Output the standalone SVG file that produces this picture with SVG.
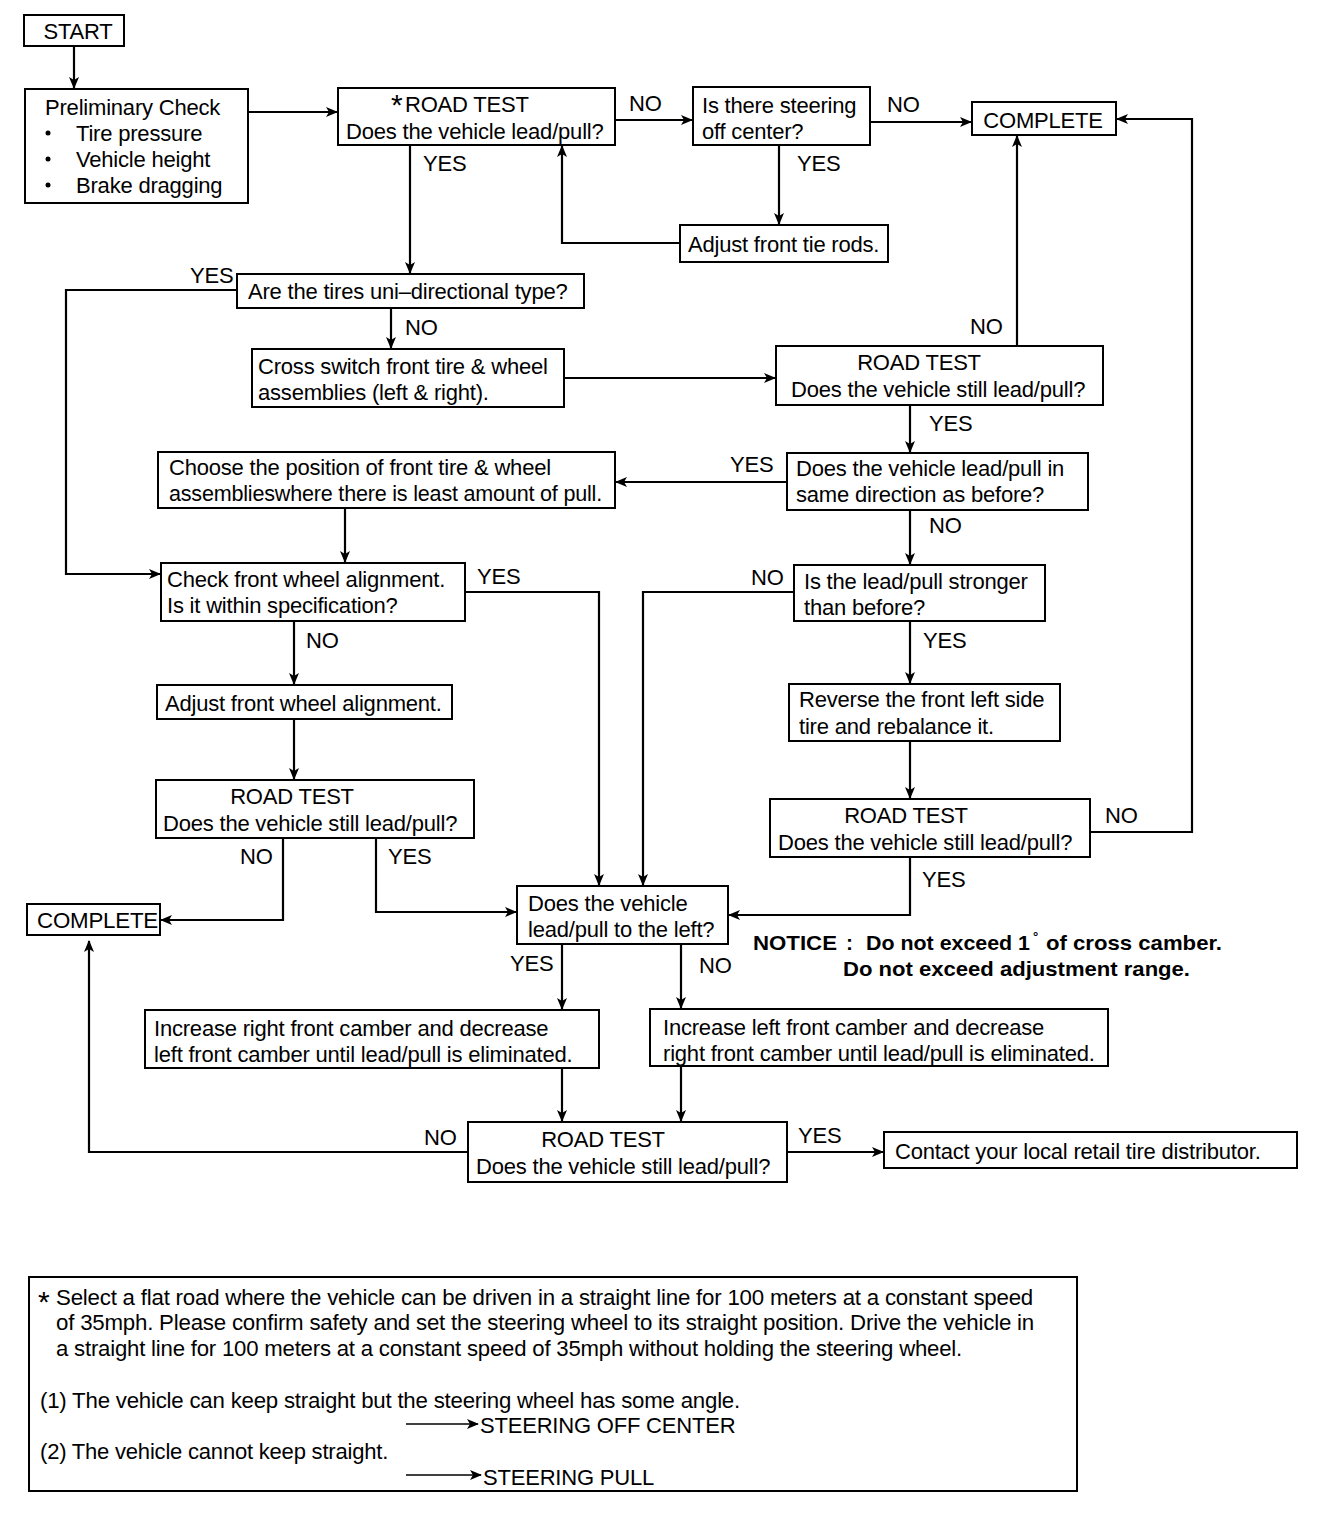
<svg xmlns="http://www.w3.org/2000/svg" width="1344" height="1518" viewBox="0 0 1344 1518">
<defs>
<marker id="ah" viewBox="0 0 12 10" refX="11" refY="5" markerWidth="13" markerHeight="10" markerUnits="userSpaceOnUse" orient="auto">
<path d="M0,0 L12,5 L0,10 L3,5 Z" fill="#000"/>
</marker>
</defs>
<style>
text{font-family:"Liberation Sans",Arial,sans-serif;font-size:22px;fill:#000;letter-spacing:-0.2px}
.b{fill:#fff;stroke:#000;stroke-width:2}
.c path{fill:none;stroke:#000;stroke-width:2.2}
.bold{font-weight:bold;font-size:21px;letter-spacing:0}
.m{text-anchor:middle}
.st{font-size:30px}
</style>
<rect width="1344" height="1518" fill="#fff"/>

<g class="c" id="connectors">
<path d="M74,46 V88" marker-end="url(#ah)"/>
<path d="M248,112 H337" marker-end="url(#ah)"/>
<path d="M615,120 H692" marker-end="url(#ah)"/>
<path d="M870,122 H971" marker-end="url(#ah)"/>
<path d="M779,145 V224" marker-end="url(#ah)"/>
<path d="M680,243 H562 V146" marker-end="url(#ah)"/>
<path d="M410,145 V273" marker-end="url(#ah)"/>
<path d="M237,290 H66 V574 H160" marker-end="url(#ah)"/>
<path d="M391,308 V348" marker-end="url(#ah)"/>
<path d="M564,378 H775" marker-end="url(#ah)"/>
<path d="M1017,346 V136" marker-end="url(#ah)"/>
<path d="M910,405 V452" marker-end="url(#ah)"/>
<path d="M787,482 H616" marker-end="url(#ah)"/>
<path d="M910,510 V564" marker-end="url(#ah)"/>
<path d="M345,508 V562" marker-end="url(#ah)"/>
<path d="M465,592 H599 V885" marker-end="url(#ah)"/>
<path d="M294,621 V684" marker-end="url(#ah)"/>
<path d="M294,719 V779" marker-end="url(#ah)"/>
<path d="M283,838 V920 H161" marker-end="url(#ah)"/>
<path d="M376,838 V912 H516" marker-end="url(#ah)"/>
<path d="M794,592 H643 V885" marker-end="url(#ah)"/>
<path d="M910,621 V683" marker-end="url(#ah)"/>
<path d="M910,741 V798" marker-end="url(#ah)"/>
<path d="M1090,832 H1192 V119 H1117" marker-end="url(#ah)"/>
<path d="M910,857 V915 H729" marker-end="url(#ah)"/>
<path d="M562,944 V1009" marker-end="url(#ah)"/>
<path d="M681,944 V1008" marker-end="url(#ah)"/>
<path d="M562,1068 V1121" marker-end="url(#ah)"/>
<path d="M681,1066 V1121" marker-end="url(#ah)"/>
<path d="M468,1152 H89 V941" marker-end="url(#ah)"/>
<path d="M787,1152 H883" marker-end="url(#ah)"/>
</g>

<g id="labels">
<text x="629" y="111">NO</text>
<text x="887" y="112">NO</text>
<text x="797" y="171">YES</text>
<text x="423" y="171">YES</text>
<text x="190" y="283">YES</text>
<text x="405" y="335">NO</text>
<text x="970" y="334">NO</text>
<text x="929" y="431">YES</text>
<text x="730" y="472">YES</text>
<text x="929" y="533">NO</text>
<text x="477" y="584">YES</text>
<text x="306" y="648">NO</text>
<text x="751" y="585">NO</text>
<text x="923" y="648">YES</text>
<text x="240" y="864">NO</text>
<text x="388" y="864">YES</text>
<text x="1105" y="823">NO</text>
<text x="922" y="887">YES</text>
<text x="510" y="971">YES</text>
<text x="699" y="973">NO</text>
<text x="424" y="1145">NO</text>
<text x="798" y="1143">YES</text>
</g>

<g id="start"><rect class="b" x="24" y="15" width="100" height="31"/><text x="78" y="39" class="m">START</text></g>

<g id="prelim"><rect class="b" x="25" y="89" width="223" height="114"/>
<text x="45" y="115">Preliminary Check</text>
<circle cx="48" cy="133" r="2.5"/><text x="76" y="141">Tire pressure</text>
<circle cx="48" cy="159" r="2.5"/><text x="76" y="167">Vehicle height</text>
<circle cx="48" cy="185" r="2.5"/><text x="76" y="193">Brake dragging</text>
</g>

<g id="rt1"><rect class="b" x="338" y="88" width="277" height="57"/>
<text x="391" y="115" class="st">*</text>
<text x="405" y="112">ROAD TEST</text>
<text x="346" y="139">Does the vehicle lead/pull?</text>
</g>

<g id="offcenter"><rect class="b" x="693" y="87" width="177" height="58"/>
<text x="702" y="113">Is there steering</text>
<text x="702" y="139">off center?</text>
</g>

<g id="complete1"><rect class="b" x="972" y="102" width="144" height="33"/><text x="1043" y="128" class="m">COMPLETE</text></g>

<g id="tierods"><rect class="b" x="680" y="225" width="208" height="37"/><text x="688" y="252">Adjust front tie rods.</text></g>

<g id="unidir"><rect class="b" x="237" y="274" width="347" height="34"/><text x="248" y="299">Are the tires uni–directional type?</text></g>

<g id="cross"><rect class="b" x="252" y="349" width="312" height="58"/>
<text x="258" y="374">Cross switch front tire &amp; wheel</text>
<text x="258" y="400">assemblies (left &amp; right).</text>
</g>

<g id="rt2"><rect class="b" x="776" y="346" width="327" height="59"/>
<text x="919" y="370" class="m">ROAD TEST</text>
<text x="791" y="397">Does the vehicle still lead/pull?</text>
</g>

<g id="choose"><rect class="b" x="158" y="452" width="457" height="56"/>
<text x="169" y="475">Choose the position of front tire &amp; wheel</text>
<text x="169" y="501" textLength="433" lengthAdjust="spacingAndGlyphs">assemblieswhere there is least amount of pull.</text>
</g>

<g id="samedir"><rect class="b" x="787" y="453" width="301" height="57"/>
<text x="796" y="476">Does the vehicle lead/pull in</text>
<text x="796" y="502">same direction as before?</text>
</g>

<g id="checkalign"><rect class="b" x="161" y="563" width="304" height="58"/>
<text x="167" y="587">Check front wheel alignment.</text>
<text x="167" y="613">Is it within specification?</text>
</g>

<g id="stronger"><rect class="b" x="794" y="565" width="251" height="56"/>
<text x="804" y="589">Is the lead/pull stronger</text>
<text x="804" y="615">than before?</text>
</g>

<g id="adjustalign"><rect class="b" x="157" y="685" width="295" height="34"/><text x="165" y="711">Adjust front wheel alignment.</text></g>

<g id="reverse"><rect class="b" x="789" y="684" width="271" height="57"/>
<text x="799" y="707">Reverse the front left side</text>
<text x="799" y="734">tire and rebalance it.</text>
</g>

<g id="rt3"><rect class="b" x="156" y="780" width="318" height="58"/>
<text x="292" y="804" class="m">ROAD TEST</text>
<text x="163" y="831">Does the vehicle still lead/pull?</text>
</g>

<g id="rt4"><rect class="b" x="770" y="799" width="320" height="58"/>
<text x="906" y="823" class="m">ROAD TEST</text>
<text x="778" y="850">Does the vehicle still lead/pull?</text>
</g>

<g id="complete2"><rect class="b" x="27" y="904" width="133" height="31"/><text x="37" y="928" textLength="121" lengthAdjust="spacingAndGlyphs">COMPLETE</text></g>

<g id="leadleft"><rect class="b" x="517" y="886" width="211" height="58"/>
<text x="528" y="911">Does the vehicle</text>
<text x="528" y="937">lead/pull to the left?</text>
</g>

<g id="notice">
<text x="753" y="950" class="bold" textLength="84" lengthAdjust="spacingAndGlyphs">NOTICE</text>
<text x="846" y="950" class="bold">:</text>
<text x="866" y="950" class="bold" textLength="164" lengthAdjust="spacingAndGlyphs">Do not exceed 1</text>
<text x="1033" y="941" class="bold" style="font-size:13px">°</text>
<text x="1046" y="950" class="bold" textLength="176" lengthAdjust="spacingAndGlyphs">of cross camber.</text>
<text x="843" y="976" class="bold" textLength="347" lengthAdjust="spacingAndGlyphs">Do not exceed adjustment range.</text>
</g>

<g id="incright"><rect class="b" x="145" y="1010" width="454" height="58"/>
<text x="154" y="1036">Increase right front camber and decrease</text>
<text x="154" y="1062">left front camber until lead/pull is eliminated.</text>
</g>

<g id="incleft"><rect class="b" x="650" y="1009" width="458" height="57"/>
<text x="663" y="1035">Increase left front camber and decrease</text>
<text x="663" y="1061">right front camber until lead/pull is eliminated.</text>
</g>

<g id="rt5"><rect class="b" x="468" y="1122" width="319" height="60"/>
<text x="603" y="1147" class="m">ROAD TEST</text>
<text x="476" y="1174">Does the vehicle still lead/pull?</text>
</g>

<g id="contact"><rect class="b" x="884" y="1132" width="413" height="36"/><text x="895" y="1159">Contact your local retail tire distributor.</text></g>

<g id="notes"><rect class="b" x="29" y="1277" width="1048" height="214"/>
<text x="38" y="1312" class="st">*</text>
<text x="56" y="1305" textLength="977" lengthAdjust="spacingAndGlyphs">Select a flat road where the vehicle can be driven in a straight line for 100 meters at a constant speed</text>
<text x="56" y="1330" textLength="978" lengthAdjust="spacingAndGlyphs">of 35mph. Please confirm safety and set the steering wheel to its straight position. Drive the vehicle in</text>
<text x="56" y="1356" textLength="906" lengthAdjust="spacingAndGlyphs">a straight line for 100 meters at a constant speed of 35mph without holding the steering wheel.</text>
<text x="40" y="1408" textLength="700" lengthAdjust="spacingAndGlyphs">(1) The vehicle can keep straight but the steering wheel has some angle.</text>
<path d="M406,1424 H478" stroke="#000" stroke-width="1.5" marker-end="url(#ah)"/>
<text x="480" y="1433">STEERING OFF CENTER</text>
<text x="40" y="1459">(2) The vehicle cannot keep straight.</text>
<path d="M406,1475 H481" stroke="#000" stroke-width="1.5" marker-end="url(#ah)"/>
<text x="483" y="1485">STEERING PULL</text>
</g>
</svg>
